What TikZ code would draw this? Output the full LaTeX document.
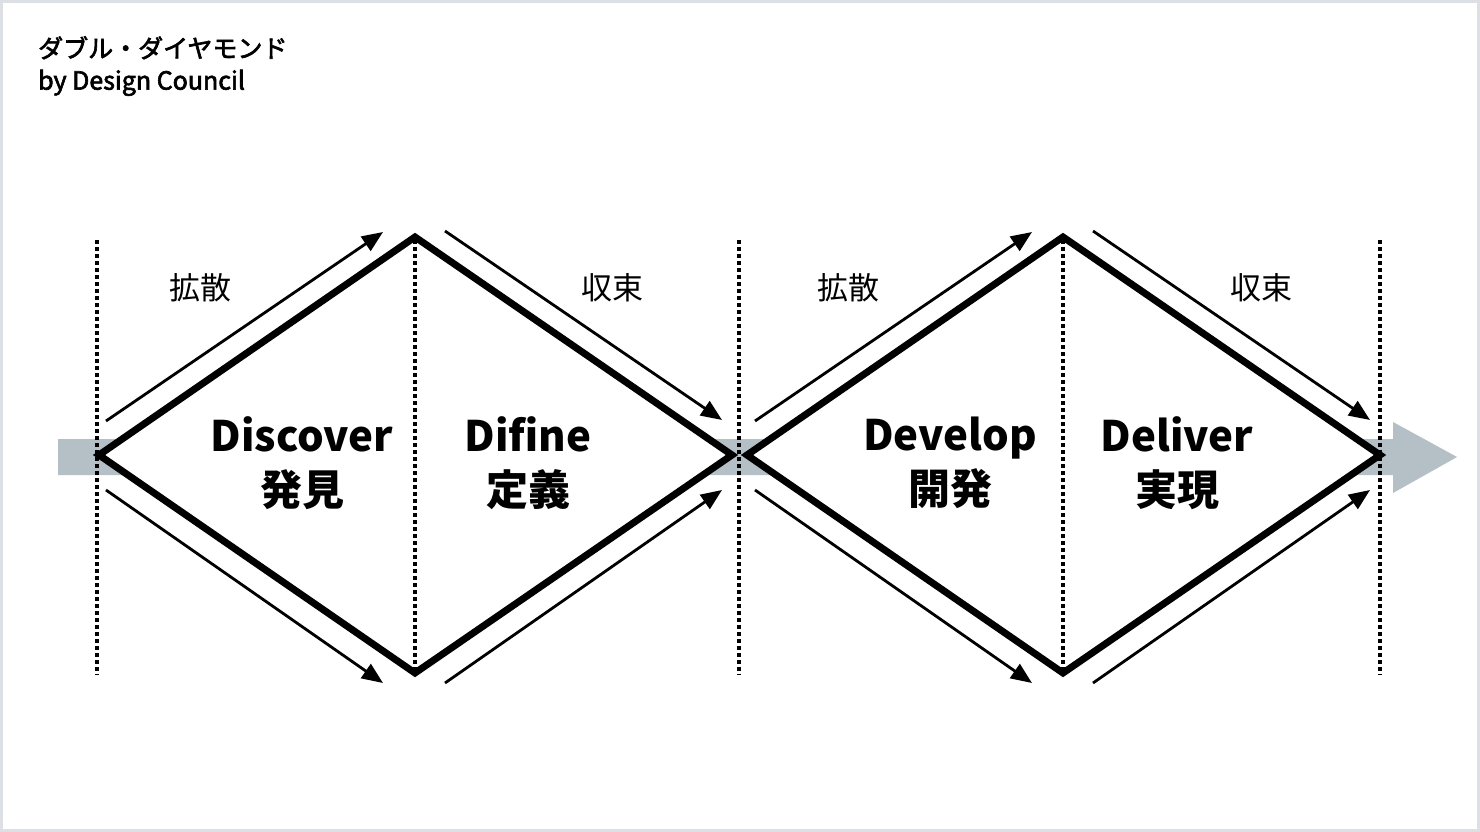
\documentclass[tikz,border=0pt]{standalone}
\usepackage{fontspec}
\setmainfont{Noto Sans CJK JP}
\newfontfamily\ttlfont{Noto Sans CJK JP}[FakeBold=2.5]
\usetikzlibrary{arrows.meta}
\definecolor{framegray}{HTML}{DCE0E4}
\definecolor{bandgray}{HTML}{B4C0C6}
\tikzset{
  px/.style={x=1pt,y=-1pt},
  dia/.style={line width=7pt, line join=miter},
  flow/.style={line width=2.8pt, -{Triangle[length=21pt,width=17pt]}},
  sep/.style={line width=3.5pt, dash pattern=on 3.5pt off 3.5pt},
  phase/.style={font=\fontsize{31}{31}\selectfont},
  big/.style={font=\bfseries\fontsize{42}{54}\selectfont, align=center},
  ttl/.style={font=\ttlfont\fontsize{25}{32}\selectfont, align=left, anchor=north west},
}
\begin{document}
\begin{tikzpicture}[px]
\useasboundingbox (0,0) rectangle (1480,832);
\draw[framegray, line width=3pt, fill=white] (1.5,1.5) rectangle (1478.5,830.5);
% gray band and arrow
\fill[bandgray] (58,439) -- (1393,439) -- (1393,422) -- (1457,457) -- (1393,493) -- (1393,475) -- (58,475) -- cycle;
% coordinates
\coordinate (d1l) at (99,455);
\coordinate (d1t) at (415,237);
\coordinate (d1r) at (732,455);
\coordinate (d1b) at (415,673);
\coordinate (d2l) at (747,455);
\coordinate (d2t) at (1063,237);
\coordinate (d2r) at (1380,455);
\coordinate (d2b) at (1063,673);
% diamond interiors
\fill[white] (d1l) -- (d1t) -- (d1r) -- (d1b) -- cycle;
\fill[white] (d2l) -- (d2t) -- (d2r) -- (d2b) -- cycle;
% dotted separators
\foreach \x/\n in {97/s1,415/s2,739/s3,1063/s4,1380/s5}{
  \coordinate (\n a) at (\x,240);
  \coordinate (\n b) at (\x,675);
  \draw[sep] (\n a) -- (\n b);
}
% diamonds
\draw[dia] (d1l) -- (d1t) -- (d1r) -- (d1b) -- cycle;
\draw[dia] (d2l) -- (d2t) -- (d2r) -- (d2b) -- cycle;
% flow arrows
\foreach \a/\b/\c/\d/\n in {106/421/383/232/a1, 106/490/383/683/a2, 445/231/722/420/a3, 445/683/722/490/a4,
  755/421/1032/232/a5, 755/490/1032/683/a6, 1093/231/1370/420/a7, 1093/683/1370/490/a8}{
  \coordinate (\n s) at (\a,\b);
  \coordinate (\n e) at (\c,\d);
  \draw[flow] (\n s) -- (\n e);
}
% phase labels
\node[phase] (p1) at (200,288) {拡散};
\node[phase] (p2) at (612,288) {収束};
\node[phase] (p3) at (848,288) {拡散};
\node[phase] (p4) at (1261,288) {収束};
% stage labels
\node[big] (t1) at (302,463) {Discover\\発見};
\node[big] (t2) at (528,463) {Difine\\定義};
\node[big] (t3) at (950,463) {Develop\\開発};
\node[big] (t4) at (1177,463) {Deliver\\実現};
% title
\node[ttl, inner sep=0pt] (title) at (38,36) {ダブル・ダイヤモンド\\by Design Council};
\end{tikzpicture}
\end{document}
